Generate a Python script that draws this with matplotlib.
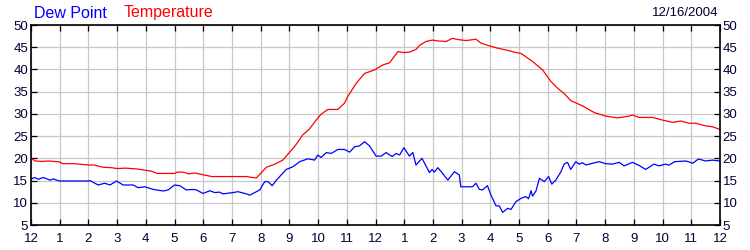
import matplotlib
matplotlib.use('Agg')
from matplotlib import pyplot as plt

plt.rcParams['font.family'] = ['Liberation Sans', 'DejaVu Sans']

# hours after midnight, temperature readings
temp_hours = [0.0, 0.15, 0.4, 0.6, 1.0, 1.1, 1.5, 2.0, 2.2, 2.5, 2.8, 3.0, 3.3, 3.7, 4.0,
              4.2, 4.4, 4.8, 5.0, 5.1, 5.3, 5.5, 5.7, 6.0, 6.3, 6.6, 7.0, 7.5, 7.7, 7.85,
              8.0, 8.2, 8.5, 8.77, 9.0, 9.2, 9.47, 9.7, 9.93, 10.1, 10.34, 10.68, 10.92,
              11.03, 11.33, 11.62, 11.97, 12.25, 12.49, 12.78, 13.0, 13.18, 13.41, 13.53,
              13.76, 13.98, 14.2, 14.46, 14.68, 14.9, 15.15, 15.5, 15.68, 15.97, 16.25,
              16.6, 16.89, 17.07, 17.47, 17.82, 18.11, 18.34, 18.57, 18.8, 19.21, 19.62,
              20.02, 20.43, 20.83, 20.95, 21.18, 21.65, 22.0, 22.35, 22.63, 22.92, 23.15,
              23.5, 23.74, 24.0]
temp_values = [20.0, 19.4, 19.3, 19.4, 19.2, 18.8, 18.8, 18.5, 18.5, 18.0, 17.9, 17.7, 17.8,
               17.6, 17.3, 17.1, 16.6, 16.6, 16.6, 16.9, 16.9, 16.5, 16.7, 16.3, 15.9, 15.9,
               15.9, 15.9, 15.7, 15.6, 16.6, 18.0, 18.7, 19.6, 21.3, 22.8, 25.3, 26.6, 28.6,
               29.9, 31.0, 31.0, 32.4, 33.9, 36.9, 39.1, 39.9, 41.0, 41.5, 44.0, 43.8, 43.9,
               44.5, 45.4, 46.3, 46.6, 46.4, 46.3, 47.0, 46.7, 46.5, 46.8, 45.9, 45.3, 44.8,
               44.3, 43.8, 43.6, 41.8, 39.9, 37.3, 35.8, 34.6, 33.0, 31.8, 30.3, 29.5, 29.1,
               29.5, 29.75, 29.2, 29.2, 28.6, 28.1, 28.4, 27.9, 27.9, 27.3, 27.1, 26.5]

# hours after midnight, dew point readings
dew_hours = [0.0, 0.12, 0.26, 0.43, 0.66, 0.78, 0.99, 2.0, 2.05, 2.34, 2.57, 2.75, 2.98,
             3.21, 3.56, 3.73, 3.97, 4.26, 4.61, 4.78, 5.0, 5.18, 5.41, 5.65, 5.76, 5.99,
             6.23, 6.4, 6.57, 6.69, 7.04, 7.21, 7.56, 7.62, 7.97, 8.14, 8.26, 8.4, 8.55,
             8.89, 9.12, 9.36, 9.65, 9.88, 9.99, 10.1, 10.29, 10.46, 10.69, 10.92, 11.1,
             11.27, 11.44, 11.62, 11.79, 12.02, 12.2, 12.37, 12.58, 12.72, 12.84, 12.99,
             13.18, 13.3, 13.41, 13.62, 13.88, 13.97, 14.05, 14.17, 14.29, 14.52, 14.75,
             14.92, 14.97, 15.27, 15.38, 15.5, 15.62, 15.73, 15.9, 16.02, 16.2, 16.31,
             16.43, 16.6, 16.72, 16.89, 17.07, 17.24, 17.33, 17.42, 17.47, 17.59, 17.71,
             17.88, 18.03, 18.14, 18.28, 18.46, 18.57, 18.69, 18.8, 18.98, 19.09, 19.21,
             19.33, 19.79, 20.02, 20.25, 20.49, 20.66, 20.95, 21.18, 21.41, 21.7, 21.88,
             22.1, 22.22, 22.42, 22.82, 23.05, 23.25, 23.5, 23.74, 24.0]
dew_values = [15.3, 15.7, 15.3, 15.7, 15.1, 15.35, 14.9, 14.9, 15.0, 14.0, 14.4, 14.0, 14.9,
              14.0, 14.0, 13.4, 13.6, 13.0, 12.65, 12.9, 14.0, 13.85, 12.9, 13.0, 12.9, 12.1,
              12.7, 12.3, 12.4, 12.0, 12.3, 12.5, 11.9, 11.7, 12.9, 14.75, 14.75, 13.85, 15.1,
              17.5, 18.1, 19.25, 19.9, 19.6, 20.75, 20.2, 21.3, 21.1, 22.0, 22.0, 21.4, 22.6,
              22.8, 23.75, 22.8, 20.5, 20.5, 21.3, 20.4, 21.1, 20.75, 22.4, 20.5, 21.3, 18.5,
              20.0, 16.8, 17.5, 16.9, 17.9, 17.0, 15.1, 17.0, 16.25, 13.6, 13.6, 13.6, 14.4,
              13.0, 12.9, 13.85, 11.75, 9.3, 9.3, 7.85, 8.75, 8.5, 10.25, 11.0, 11.4, 10.9,
              12.7, 11.5, 12.65, 15.5, 14.75, 15.9, 14.2, 15.1, 17.0, 18.7, 19.1, 17.5, 19.25,
              18.7, 19.0, 18.5, 19.25, 18.8, 18.7, 19.1, 18.3, 19.1, 18.4, 17.5, 18.7, 18.3,
              18.7, 18.45, 19.25, 19.4, 18.9, 19.85, 19.4, 19.6, 19.4]

x_ticks = list(range(0, 25))
x_labels = ['12'] + [str(h) for h in range(1, 12)] + ['12'] + [str(h) for h in range(1, 12)] + ['12']
y_ticks = list(range(5, 51, 5))
date_label = '12/16/2004'

label_color = '#000033'

fig = plt.figure(figsize=(7.5, 2.5), dpi=100)
ax = fig.add_axes([31 / 750, 25 / 250, 689 / 750, 200 / 250])

ax.plot(temp_hours, temp_values, color='#ff0000', linewidth=0.9)
ax.plot(dew_hours, dew_values, color='#0000ff', linewidth=0.9)

ax.set_xlim(0, 24)
ax.set_ylim(5, 50)
ax.set_xticks(x_ticks)
ax.set_xticklabels(x_labels)
ax.set_yticks(y_ticks)
ax.grid(True, color='#c8c8c8', linewidth=0.9)
ax.set_axisbelow(True)

ax.tick_params(axis='both', direction='in', length=4, width=0.9, color='black',
               labelsize=9.5, labelcolor=label_color, pad=2,
               top=True, right=True, labelright=True)
ax.tick_params(axis='x', pad=5.5)
for sp in ax.spines.values():
    sp.set_linewidth(1.2)
    sp.set_color('black')

fig.text(34 / 750, 1 - 13 / 250, 'Dew Point', color='#0000ff', fontsize=11.5, va='center', ha='left')
fig.text(124 / 750, 1 - 13 / 250, 'Temperature', color='#ff0000', fontsize=11.5, va='center', ha='left')
fig.text(718 / 750, 1 - 13 / 250, date_label, color=label_color, fontsize=9.5, va='center', ha='right')

plt.savefig('out.png', dpi=100)
